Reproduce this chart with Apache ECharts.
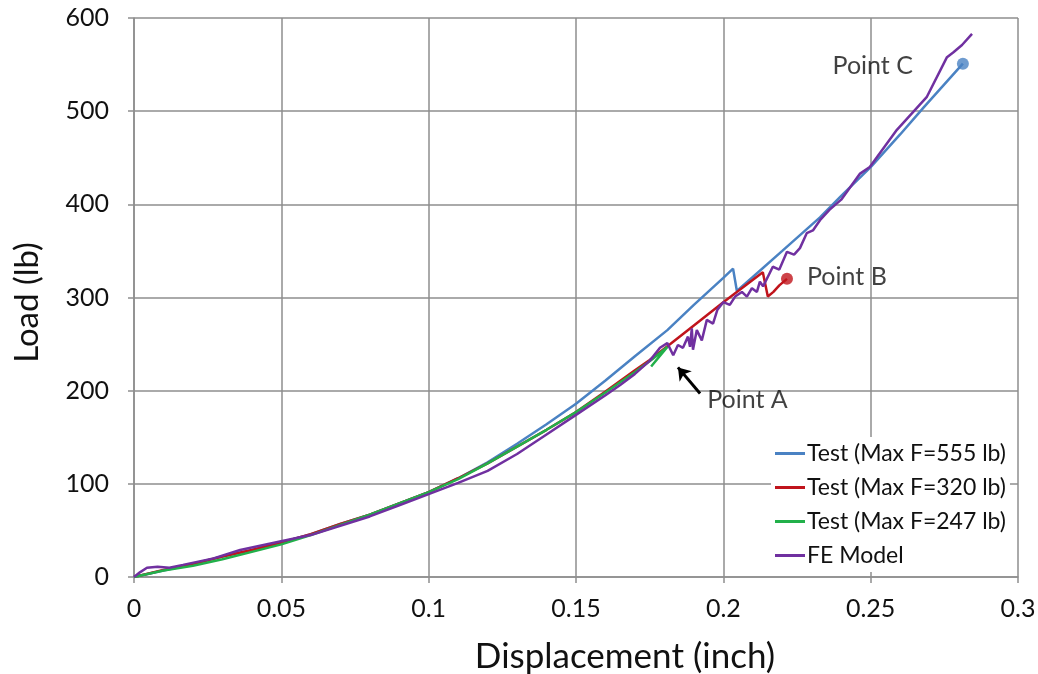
<!DOCTYPE html>
<html>
<head>
<meta charset="utf-8">
<script src="https://cdn.jsdelivr.net/npm/echarts@6/dist/echarts.min.js"></script>
<style>
html,body{margin:0;padding:0;background:#fff;}
#chart{width:1038px;height:674px;}
</style>
</head>
<body>
<div id="chart"></div>
<script>
// Series values: [displacement (inch), load (lb)]
const test555 = [[0,0],[0.01,7],[0.02,14],[0.03,22],[0.04,29],[0.05,37],[0.06,46],[0.07,57],[0.08,67],[0.09,79],[0.1,91],[0.11,106],[0.12,123],[0.13,143],[0.14,164],[0.15,186],[0.16,211],[0.17,237],[0.181,265],[0.19,292],[0.2,321],[0.2033,331],[0.2046,307],[0.21,322],[0.22,350],[0.2328,386],[0.24,409],[0.25,440],[0.26,475],[0.268,504],[0.2813,551]];
const test320 = [[0,0],[0.01,7.5],[0.02,14],[0.03,22],[0.04,29],[0.05,37],[0.06,46],[0.07,57],[0.08,67],[0.09,79],[0.1,91],[0.11,106],[0.12,122],[0.13,140],[0.14,158],[0.15,177],[0.16,199],[0.17,222],[0.175,233],[0.182,250],[0.19,270],[0.2,295],[0.2134,327],[0.2151,301],[0.217,306],[0.219,313],[0.2216,320]];
const test247 = [[0,0],[0.01,7],[0.02,12],[0.03,19],[0.04,27],[0.05,35],[0.06,45],[0.07,56],[0.08,67],[0.09,79],[0.1,91],[0.11,105],[0.12,122],[0.13,140],[0.14,158],[0.15,177],[0.16,198],[0.17,220],[0.176,234],[0.181,247],[0.1755,226]];
const feModel = [[0,0],[0.002,5],[0.0044,10],[0.008,11],[0.012,10],[0.0166,13],[0.027,20],[0.036,29],[0.0495,38],[0.06,45],[0.07,55],[0.08,65],[0.09,77],[0.1,89],[0.11,101],[0.12,114],[0.13,132],[0.14,153],[0.15,174],[0.16,195],[0.165,206],[0.17,218],[0.175,232],[0.1785,246],[0.181,251],[0.183,238],[0.1846,249],[0.1863,246],[0.188,258],[0.1887,247],[0.1893,267],[0.1897,244],[0.191,265],[0.1927,254],[0.1944,276],[0.1965,272],[0.198,287],[0.2,295],[0.2022,292],[0.204,301],[0.2063,306],[0.208,301],[0.2097,310],[0.2114,306],[0.2124,317],[0.2135,312],[0.2168,333],[0.219,330],[0.2216,349],[0.224,346],[0.226,353],[0.2283,369],[0.2304,372],[0.2328,383],[0.236,394],[0.24,405],[0.2464,433],[0.2497,440],[0.2589,480],[0.269,515],[0.2759,558],[0.278,563],[0.281,571],[0.2844,583]];
const pointB = [0.2216, 320];
const pointC = [0.2813, 551];
const pointALabel = [0.1945, 190];
const pointAArrow = [[0.1921, 197], [0.1846, 225]];
const xTicks = {min: 0, max: 0.3, interval: 0.05};
const yTicks = {min: 0, max: 600, interval: 100};
const seriesNames = ['Test (Max F=555 lb)', 'Test (Max F=320 lb)', 'Test (Max F=247 lb)', 'FE Model'];
const colors = ['#4a82c3', '#c0141c', '#22b04a', '#7030a0'];

const FONT = 'Lato, "Open Sans", sans-serif';
const TXT = '#111111';
const grid = '#8e8e8e';
const chart = echarts.init(document.getElementById('chart'), null, {renderer: 'canvas'});

function lineSeries(name, data, color, z) {
  return {
    name: name, type: 'line', data: data, symbol: 'none', z: z,
    lineStyle: {color: color, width: 2.5}, itemStyle: {color: color},
    animation: false
  };
}

chart.setOption({
  animation: false,
  grid: {left: 134, right: 20, top: 18, bottom: 97, containLabel: false, outerBoundsMode: 'none'},
  xAxis: {
    type: 'value', min: xTicks.min, max: xTicks.max, interval: xTicks.interval,
    name: 'Displacement (inch)', nameLocation: 'middle', nameGap: 62,
    nameTextStyle: {fontFamily: FONT, fontSize: 35, color: TXT, padding: [0, 0, 0, 98]},
    axisLine: {show: true, lineStyle: {color: grid, width: 1.5}},
    axisTick: {show: true, inside: false, length: 6, lineStyle: {color: grid, width: 1.5}},
    axisLabel: {fontFamily: FONT, fontSize: 25, color: TXT, margin: 19,
      formatter: v => String(+v.toFixed(2))},
    splitLine: {show: true, lineStyle: {color: grid, width: 1.5}}
  },
  yAxis: {
    type: 'value', min: yTicks.min, max: yTicks.max, interval: yTicks.interval,
    name: 'Load (lb)', nameLocation: 'middle', nameGap: 90, nameRotate: 90,
    nameTextStyle: {fontFamily: FONT, fontSize: 33, color: TXT, padding: [0, 10, 0, 0]},
    axisLine: {show: true, lineStyle: {color: grid, width: 1.5}},
    axisTick: {show: true, inside: false, length: 6, lineStyle: {color: grid, width: 1.5}},
    axisLabel: {fontFamily: FONT, fontSize: 25, color: TXT, margin: 25},
    splitLine: {show: true, lineStyle: {color: grid, width: 1.5}}
  },
  legend: {
    data: seriesNames.map(n => ({name: n, icon: 'rect'})),
    orient: 'vertical', left: 771, top: 437,
    itemWidth: 30, itemHeight: 3, itemGap: 11,
    backgroundColor: '#ffffff', padding: [5, 4, 5, 4],
    textStyle: {fontFamily: FONT, fontSize: 23, color: TXT, padding: [0, 0, 0, -3]}
  },
  series: [
    lineSeries(seriesNames[0], test555, colors[0], 3),
    lineSeries(seriesNames[1], test320, colors[1], 4),
    lineSeries(seriesNames[2], test247, colors[2], 5),
    lineSeries(seriesNames[3], feModel, colors[3], 6),
    {
      type: 'scatter', name: 'pointC', data: [pointC], symbolSize: 12, z: 7,
      itemStyle: {color: colors[0]},
      label: {show: true, position: 'left', distance: 44, formatter: 'Point C',
        fontFamily: FONT, fontSize: 25, color: TXT, offset: [0, 2]}
    },
    {
      type: 'scatter', name: 'pointB', data: [pointB], symbolSize: 12, z: 7,
      itemStyle: {color: colors[1]},
      label: {show: true, position: 'right', distance: 14, formatter: 'Point B',
        fontFamily: FONT, fontSize: 25, color: TXT, offset: [0, -2]}
    },
    {
      type: 'scatter', name: 'pointA', data: [pointALabel], symbolSize: 0, z: 7,
      label: {show: true, position: 'right', distance: 0, formatter: 'Point A',
        fontFamily: FONT, fontSize: 25, color: TXT},
      markLine: {
        silent: true, animation: false,
        symbol: ['none', 'arrow'], symbolSize: [12, 12],
        lineStyle: {color: '#000', width: 3, type: 'solid'},
        label: {show: false},
        data: [[{coord: pointAArrow[0]}, {coord: pointAArrow[1]}]]
      }
    }
  ]
});
</script>
</body>
</html>
